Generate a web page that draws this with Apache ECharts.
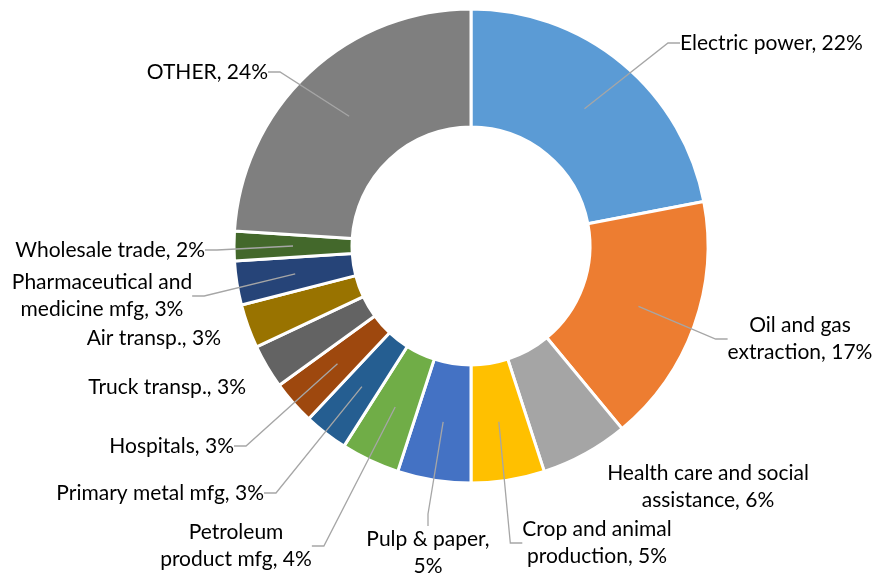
<!DOCTYPE html>
<html><head><meta charset="utf-8">
<script src="https://cdn.jsdelivr.net/npm/echarts@6/dist/echarts.min.js"></script>
<style>html,body{margin:0;padding:0;background:#fff}#c{width:876px;height:578px}</style>
</head><body><div id="c"></div>
<script>
const categories = ['Electric power','Oil and gas extraction','Health care and social assistance','Crop and animal production','Pulp & paper','Petroleum product mfg','Primary metal mfg','Hospitals','Truck transp.','Air transp.','Pharmaceutical and medicine mfg','Wholesale trade','OTHER'];
const labelTexts = ['Electric power, 22%','Oil and gas\nextraction, 17%','Health care and social\nassistance, 6%','Crop and animal\nproduction, 5%','Pulp & paper,\n5%','Petroleum\nproduct mfg, 4%','Primary metal mfg, 3%','Hospitals, 3%','Truck transp., 3%','Air transp., 3%','Pharmaceutical and\nmedicine mfg, 3%','Wholesale trade, 2%','OTHER, 24%'];
const values = [22,17,6,5,5,4,3,3,3,3,3,2,24];
const showLeader = [true,true,false,true,true,true,true,true,false,false,true,true,true];

// styling / placement (not data)
const colors = ['#5B9BD5','#ED7D31','#A5A5A5','#FFC000','#4472C4','#70AD47','#255E91','#9E480E','#636363','#997300','#264478','#43682B','#7F7F7F'];
const labelPos = [
  [680,43,'left'],[800,339,'center'],[708,487,'center'],[597,543,'center'],[428,553,'center'],
  [236,546,'center'],[264,493,'right'],[234,446,'right'],[246,387,'right'],[221,338,'right'],
  [102,296,'center'],[205,250,'right'],[268,72,'right']
];

const chart = echarts.init(document.getElementById('c'), null, {renderer:'canvas'});
const center = [471,246];
chart.setOption({
  backgroundColor:'#ffffff',
  animation:false,
  series:[
    {
      type:'pie', center:center, radius:[119,237], startAngle:90, clockwise:true,
      silent:true, avoidLabelOverlap:false,
      label:{show:false}, labelLine:{show:false},
      itemStyle:{borderColor:'#ffffff', borderWidth:3},
      data: categories.map((n,i)=>({name:n, value:values[i], itemStyle:{color:colors[i]}}))
    },
    {
      type:'pie', center:center, radius:[0,178], startAngle:90, clockwise:true,
      silent:true, avoidLabelOverlap:false, z:5,
      itemStyle:{color:'rgba(0,0,0,0)', borderWidth:0},
      label:{show:true, position:'outside', color:'#000', fontFamily:'Lato', fontSize:21, lineHeight:27,
        formatter:(p)=>labelTexts[p.dataIndex]},
      labelLine:{show:true, length:10, length2:12, minTurnAngle:0, lineStyle:{color:'#A6A6A6', width:1.3}},
      labelLayout:(params)=>{const p=labelPos[params.dataIndex]; return {x:p[0], y:p[1], align:p[2], verticalAlign:'middle'};},
      data: categories.map((n,i)=>({name:n, value:values[i], labelLine:{show:showLeader[i]}}))
    }
  ]
});
</script></body></html>
